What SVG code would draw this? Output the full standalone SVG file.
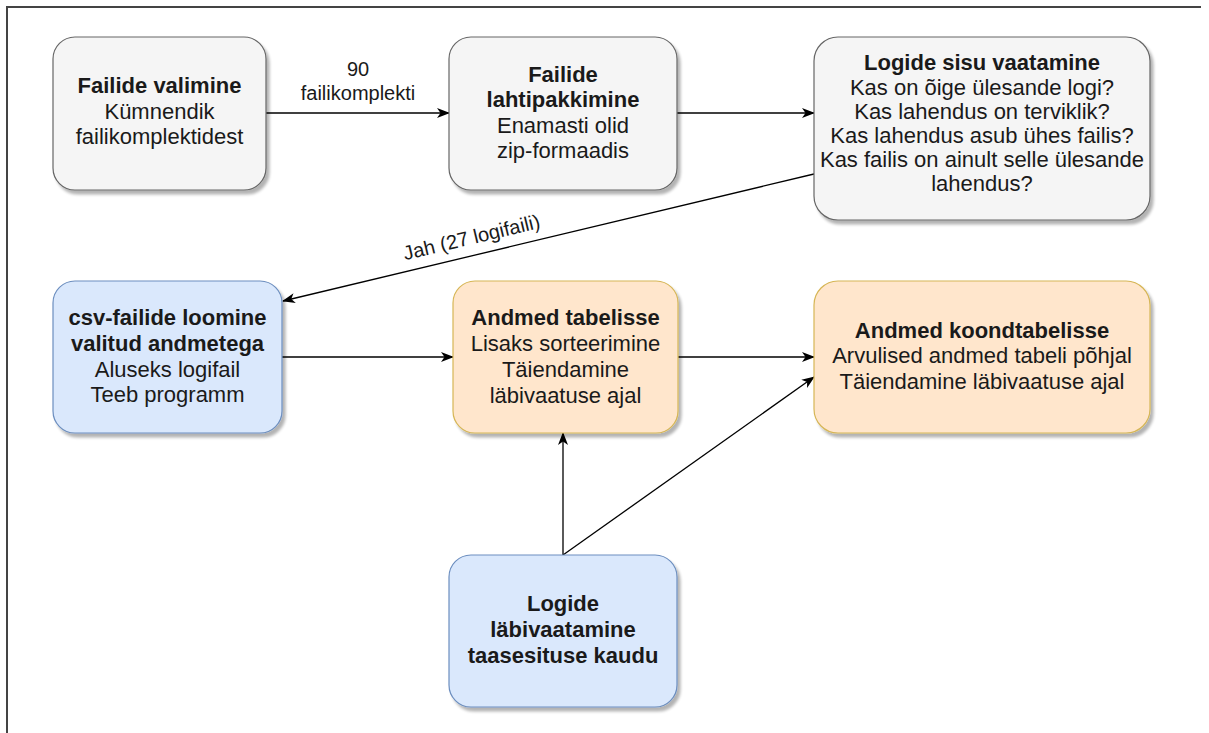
<svg xmlns="http://www.w3.org/2000/svg" width="1209" height="733" viewBox="0 0 1209 733">
<defs>
<marker id="arr" markerWidth="14" markerHeight="12" refX="12" refY="6" orient="auto" markerUnits="userSpaceOnUse">
<path d="M0,1 L13,6 L0,11 L3.5,6 Z" fill="#000"/>
</marker>
<filter id="sh" x="-10%" y="-10%" width="130%" height="130%">
<feGaussianBlur in="SourceAlpha" stdDeviation="1.5"/>
<feOffset dx="3" dy="4"/>
<feComponentTransfer><feFuncA type="linear" slope="0.3"/></feComponentTransfer>
<feMerge><feMergeNode/><feMergeNode in="SourceGraphic"/></feMerge>
</filter>
</defs>
<style>
.t{font-family:"Liberation Sans",Arial,sans-serif;font-size:22px;fill:#1a1a1a;text-anchor:middle}
.b{font-weight:bold}
.gray{fill:#f5f5f5;stroke:#666666;stroke-width:1.2}
.blue{fill:#dae8fc;stroke:#6c8ebf;stroke-width:1.2}
.orange{fill:#ffe6cc;stroke:#d6b656;stroke-width:1.2}
.c{fill:none;stroke:#000;stroke-width:1.3}
.lbl{font-family:"Liberation Sans",Arial,sans-serif;font-size:20px;fill:#1a1a1a;text-anchor:middle}
</style>
<rect width="1209" height="733" fill="#ffffff"/>
<path d="M7,740 L7,7 L1201,7" fill="none" stroke="#444" stroke-width="2"/>

<g id="connectors">
<line class="c" x1="266" y1="113" x2="449" y2="113" marker-end="url(#arr)"/>
<line class="c" x1="677" y1="113" x2="814" y2="113" marker-end="url(#arr)"/>
<line class="c" x1="814" y1="174" x2="283" y2="301" marker-end="url(#arr)"/>
<line class="c" x1="282" y1="357" x2="453" y2="357" marker-end="url(#arr)"/>
<line class="c" x1="678" y1="357" x2="814" y2="357" marker-end="url(#arr)"/>
<line class="c" x1="563" y1="555" x2="563" y2="433" marker-end="url(#arr)"/>
<line class="c" x1="563" y1="555" x2="814" y2="377" marker-end="url(#arr)"/>
<text class="lbl" x="358" y="76">90</text>
<text class="lbl" x="358" y="100">failikomplekti</text>
<text class="lbl" transform="translate(473,244) rotate(-13.5)">Jah (27 logifaili)</text>
</g>

<g id="n1">
<rect class="gray" x="53" y="37" width="213" height="153" rx="22" filter="url(#sh)"/>
<text class="t b" x="159.5" y="93">Failide valimine</text>
<text class="t" x="159.5" y="119">Kümnendik</text>
<text class="t" x="159.5" y="144">failikomplektidest</text>
</g>

<g id="n2">
<rect class="gray" x="449" y="37" width="228" height="153" rx="22" filter="url(#sh)"/>
<text class="t b" x="563" y="82">Failide</text>
<text class="t b" x="563" y="107">lahtipakkimine</text>
<text class="t" x="563" y="133">Enamasti olid</text>
<text class="t" x="563" y="158">zip-formaadis</text>
</g>

<g id="n3">
<rect class="gray" x="814" y="37" width="336" height="183" rx="24" filter="url(#sh)"/>
<text class="t b" x="982" y="70">Logide sisu vaatamine</text>
<text class="t" x="982" y="95">Kas on õige ülesande logi?</text>
<text class="t" x="982" y="119">Kas lahendus on terviklik?</text>
<text class="t" x="982" y="143">Kas lahendus asub ühes failis?</text>
<text class="t" x="982" y="167">Kas failis on ainult selle ülesande</text>
<text class="t" x="982" y="191">lahendus?</text>
</g>

<g id="n4">
<rect class="blue" x="53" y="281" width="229" height="152" rx="22" filter="url(#sh)"/>
<text class="t b" x="167.5" y="325">csv-failide loomine</text>
<text class="t b" x="167.5" y="351">valitud andmetega</text>
<text class="t" x="167.5" y="377">Aluseks logifail</text>
<text class="t" x="167.5" y="402">Teeb programm</text>
</g>

<g id="n5">
<rect class="orange" x="453" y="281" width="225" height="152" rx="22" filter="url(#sh)"/>
<text class="t b" x="565.5" y="325">Andmed tabelisse</text>
<text class="t" x="565.5" y="351">Lisaks sorteerimine</text>
<text class="t" x="565.5" y="377">Täiendamine</text>
<text class="t" x="565.5" y="403">läbivaatuse ajal</text>
</g>

<g id="n6">
<rect class="orange" x="814" y="281" width="336" height="152" rx="24" filter="url(#sh)"/>
<text class="t b" x="982" y="338">Andmed koondtabelisse</text>
<text class="t" x="982" y="363">Arvulised andmed tabeli põhjal</text>
<text class="t" x="982" y="389">Täiendamine läbivaatuse ajal</text>
</g>

<g id="n7">
<rect class="blue" x="449" y="555" width="228" height="152" rx="22" filter="url(#sh)"/>
<text class="t b" x="563" y="611">Logide</text>
<text class="t b" x="563" y="637">läbivaatamine</text>
<text class="t b" x="563" y="663">taasesituse kaudu</text>
</g>
</svg>
